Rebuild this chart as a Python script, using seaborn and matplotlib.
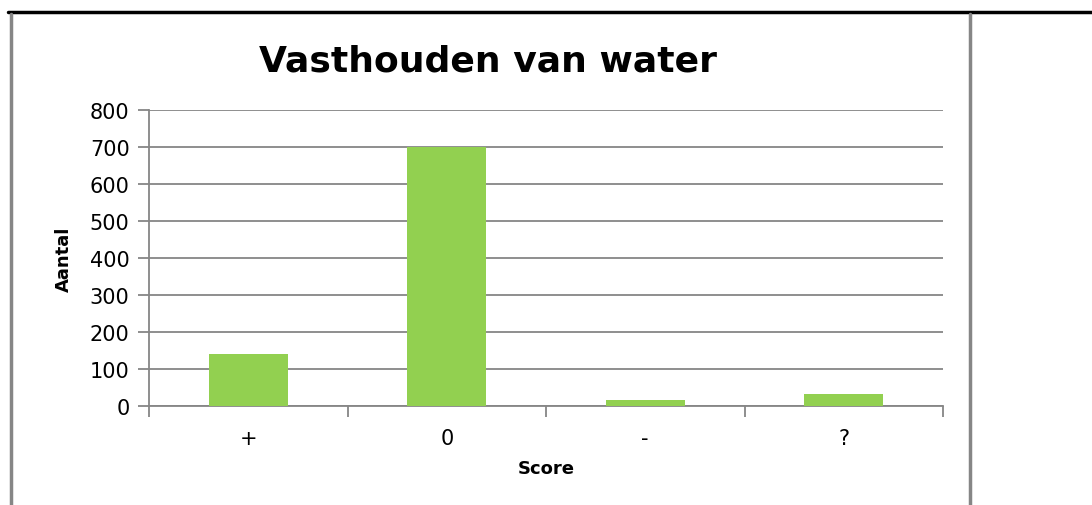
import pandas as pd
import numpy as np
import matplotlib
matplotlib.use('Agg')
import matplotlib.pyplot as plt
import seaborn as sns
from matplotlib.lines import Line2D

# Data
scores = ['+', '0', '-', '?']
counts = [140, 700, 17, 33]

df = pd.DataFrame({'Score': scores, 'Aantal': counts})

sns.set_style('white')
plt.rcParams['font.family'] = ['DejaVu Sans']
plt.rcParams['text.color'] = 'black'
plt.rcParams['axes.labelcolor'] = 'black'
plt.rcParams['xtick.color'] = 'black'
plt.rcParams['ytick.color'] = 'black'

fig = plt.figure(figsize=(10.92, 5.06), dpi=100)
ax = fig.add_axes([149 / 1092, 1 - 407 / 506, (943 - 149) / 1092, (407 - 111) / 506])

sns.barplot(data=df, x='Score', y='Aantal', color='#92D050', width=0.4,
            saturation=1, linewidth=0, ax=ax, zorder=3)

ax.set_ylim(0, 800)
ax.set_xlim(-0.5, 3.5)
ax.set_yticks(range(0, 801, 100))
ax.yaxis.grid(True, color='#868686', linewidth=1.3, zorder=0)
ax.set_axisbelow(True)

for side in ['top', 'right']:
    ax.spines[side].set_visible(False)
for side in ['left', 'bottom']:
    ax.spines[side].set_color('#868686')
    ax.spines[side].set_linewidth(1.3)

# x ticks at category boundaries, labels at centres
ax.set_xticks(np.arange(-0.5, 4, 1))
ax.set_xticklabels([])
ax.set_xticks(range(len(scores)), minor=True)
ax.set_xticklabels(scores, minor=True, fontsize=15)
ax.tick_params(axis='x', which='major', bottom=True, length=8, width=1.3,
               color='#868686', direction='out')
ax.tick_params(axis='x', which='minor', bottom=True, length=0, pad=16)
ax.tick_params(axis='y', left=True, length=8, width=1.3, color='#868686',
               labelsize=15, pad=6)

ax.set_xlabel('Score', fontsize=13, fontweight='bold', labelpad=8)
ax.set_ylabel('Aantal', fontsize=13, fontweight='bold', labelpad=12)

fig.text(488 / 1092, 1 - 62 / 506, 'Vasthouden van water', fontsize=26,
         fontweight='bold', ha='center', va='center')

# chart frame lines
fig.add_artist(Line2D([8 / 1092, 1], [1 - 13 / 506] * 2, color='black', linewidth=2.5))
fig.add_artist(Line2D([11 / 1092] * 2, [0, 1 - 15 / 506], color='#868686', linewidth=2.5))
fig.add_artist(Line2D([970 / 1092] * 2, [0, 1 - 15 / 506], color='#868686', linewidth=2.5))

plt.savefig('out.png', dpi=100)
